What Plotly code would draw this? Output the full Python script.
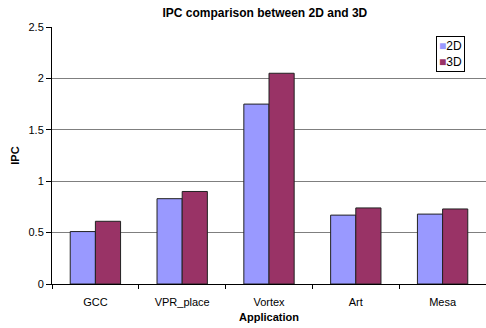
import plotly.graph_objects as go

apps = ["GCC", "VPR_place", "Vortex", "Art", "Mesa"]
ipc_2d = [0.51, 0.83, 1.75, 0.67, 0.68]
ipc_3d = [0.61, 0.90, 2.05, 0.74, 0.73]
y_ticks = [0, 0.5, 1, 1.5, 2, 2.5]
y_tick_labels = ["0", "0.5", "1", "1.5", "2", "2.5"]
series = [("2D", ipc_2d, "#9999FF"), ("3D", ipc_3d, "#993366")]

fig = go.Figure()
for name, vals, col in series:
    fig.add_trace(go.Bar(name=name, x=apps, y=vals,
                         marker=dict(color=col, line=dict(color="#222222", width=1))))

font = "Liberation Sans, Arial, sans-serif"
fig.update_layout(
    width=486, height=328,
    margin=dict(l=52, r=0, t=27, b=44),
    paper_bgcolor="white", plot_bgcolor="white",
    barmode="group", bargap=0.42, bargroupgap=0,
    font=dict(family=font, size=11, color="black"),
    title=dict(text="<b>IPC comparison between 2D and 3D</b>", x=0.545, xanchor="center",
               y=0.96, yanchor="middle", font=dict(size=12, family=font)),
    showlegend=False,
    xaxis=dict(showline=True, linecolor="black", linewidth=1, ticks="outside", ticklen=4,
               tickson="boundaries", tickcolor="black", showgrid=False, ticklabelstandoff=8,
               title=dict(text="<b>Application</b>", font=dict(size=11), standoff=6),
               tickfont=dict(size=11)),
    yaxis=dict(range=[0, 2.5], tickvals=y_ticks, ticktext=y_tick_labels, showline=True, linecolor="black",
               linewidth=1, ticks="outside", ticklen=5, tickcolor="black", showgrid=True,
               gridcolor="#7f7f7f", gridwidth=1, zeroline=False,
               title=dict(text="<b>IPC</b>", font=dict(size=11), standoff=6), tickfont=dict(size=11)),
)
legend_text = "<br>".join(
    f"<span style='color:{col}'>■</span>{name}" for name, _, col in series)
fig.add_annotation(text=legend_text, xref="paper", yref="paper", x=0.885, xanchor="left",
                   y=0.965, yanchor="top", showarrow=False, align="left",
                   bordercolor="black", borderwidth=1, borderpad=2, bgcolor="white",
                   font=dict(size=12, family=font, color="black"))
fig.write_html("out.html")
